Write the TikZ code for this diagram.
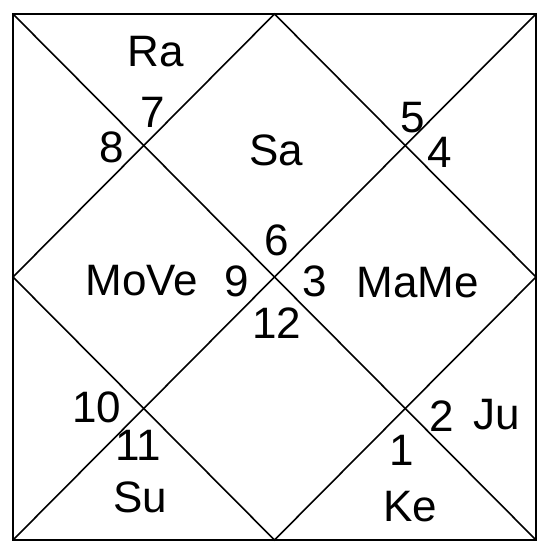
\documentclass[tikz,border=0pt]{standalone}
\usepackage{fontspec}
\setmainfont{Liberation Sans}
\usetikzlibrary{positioning,calc}

\tikzset{
  chartline/.style={line width=0.8pt},
  lbl/.style={font=\fontsize{22}{26}\selectfont,inner sep=0pt}
}

\begin{document}
\begin{tikzpicture}[x=0.5pt,y=-0.5pt]
\useasboundingbox (0,0) rectangle (540,542);
% corners and midpoints of the chart
\coordinate (tl) at (13,14);
\coordinate (tr) at (536,14);
\coordinate (br) at (536,540);
\coordinate (bl) at (13,540);
\coordinate (tm) at ($(tl)!0.5!(tr)$);
\coordinate (rm) at ($(tr)!0.5!(br)$);
\coordinate (bm) at ($(bl)!0.5!(br)$);
\coordinate (lm) at ($(tl)!0.5!(bl)$);
\draw[line width=1.1pt] (tl) -- (tr) -- (br) -- (bl) -- cycle;
\draw[chartline] (tl) -- (br);
\draw[chartline] (tr) -- (bl);
\draw[chartline] (tm) -- (rm) -- (bm) -- (lm) -- cycle;
% houses
\node[lbl] (h7) at (153,112) {7};
\node[lbl] (h8) at (112,147) {8};
\node[lbl] (h5) at (413,118) {5};
\node[lbl] (h4) at (440,152) {4};
\node[lbl] (h6) at (277,240) {6};
\node[lbl] (h9) at (237,281) {9};
\node[lbl] (h3) at (315,281) {3};
\node[lbl] (h12) at (277,323) {12};
\node[lbl] (h10) at (97,407) {10};
\node[lbl] (h11) at (138,445) {11};
\node[lbl] (h2) at (442,416) {2};
\node[lbl] (h1) at (402,450) {1};
% planets
\node[lbl] (ra) at (156,52) {Ra};
\node[lbl] (sa) at (276,150) {Sa};
\node[lbl] (move) at (142,281) {MoVe};
\node[lbl] (mame) at (418,283) {MaMe};
\node[lbl] (su) at (140,497) {Su};
\node[lbl] (ju) at (497,415) {Ju};
\node[lbl] (ke) at (410,507) {Ke};
\end{tikzpicture}
\end{document}
